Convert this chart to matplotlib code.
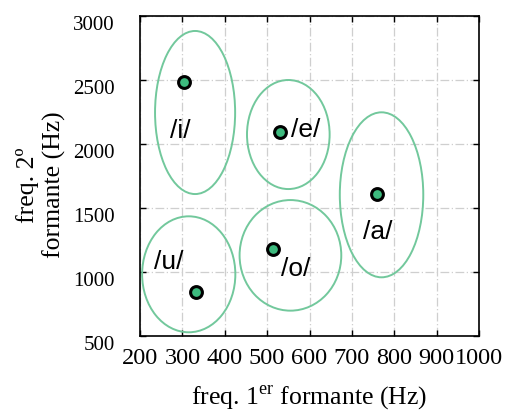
import numpy as np
import matplotlib.pyplot as plt
from matplotlib.patches import Ellipse

plt.rcParams['font.family'] = ['Liberation Serif', 'DejaVu Serif']
plt.rcParams['mathtext.fontset'] = 'custom'
plt.rcParams['mathtext.rm'] = 'Liberation Serif'

# vocales: F1, F2 (Hz)
vowels = ['/i/', '/e/', '/a/', '/o/', '/u/']
f1 = [303, 531, 760, 513, 332]
f2 = [2485, 2090, 1610, 1180, 840]

# elipses: centro y tamaño (Hz)
ell_cx = [330, 550, 770, 555, 315]
ell_cy = [2246, 2074, 1603, 1130, 982]
ell_w = [189, 195, 197, 240, 220]
ell_h = [1274, 852, 1289, 864, 906]

# posición de las etiquetas
lab_x = [295, 592, 762, 568, 267]
lab_y = [2104, 2110, 1312, 1023, 1076]

xticks = [200, 300, 400, 500, 600, 700, 800, 900, 1000]
yticks = [500, 1000, 1500, 2000, 2500, 3000]

fig = plt.figure(figsize=(5.06, 4.12), dpi=100)
ax = fig.add_axes([140 / 506, 1 - 336 / 412, 339 / 506, 320 / 412])

ax.set_xlim(200, 1000)
ax.set_ylim(500, 3000)
ax.set_xticks(xticks)
ax.set_yticks(yticks)
ax.grid(True, color='#cfcfcf', linestyle=(0, (7, 2, 1, 2)), linewidth=0.9)
ax.set_axisbelow(True)

for cx, cy, w, h in zip(ell_cx, ell_cy, ell_w, ell_h):
    ax.add_patch(Ellipse((cx, cy), w, h, fill=False, edgecolor='#72c89c', lw=1.4))

ax.plot(f1, f2, 'o', ms=8.5, mfc='#3dba7e', mec='black', mew=2.2, zorder=5)

for name, x, y in zip(vowels, lab_x, lab_y):
    ax.text(x, y, name, fontsize=19, family=['Liberation Sans', 'DejaVu Sans'],
            ha='center', va='center', zorder=6)

for sp in ax.spines.values():
    sp.set_linewidth(1.2)
ax.tick_params(direction='in', length=4, width=1, top=True, right=True)
ax.tick_params(axis='x', labelsize=17.5, pad=9)
ax.tick_params(axis='y', labelsize=15, pad=18)
for lab in ax.get_yticklabels():
    lab.set_va('top')

fig.text(309 / 506, 1 - 398 / 412, 'freq. 1$^{\\rm er}$ formante (Hz)', fontsize=18.5,
         ha='center', va='center')
fig.text(41 / 506, 1 - 185 / 412, 'freq. 2º\nformante (Hz)', fontsize=18.5,
         ha='center', va='center', rotation=90, linespacing=1.2, multialignment='center')

fig.savefig('out.png', dpi=100)
